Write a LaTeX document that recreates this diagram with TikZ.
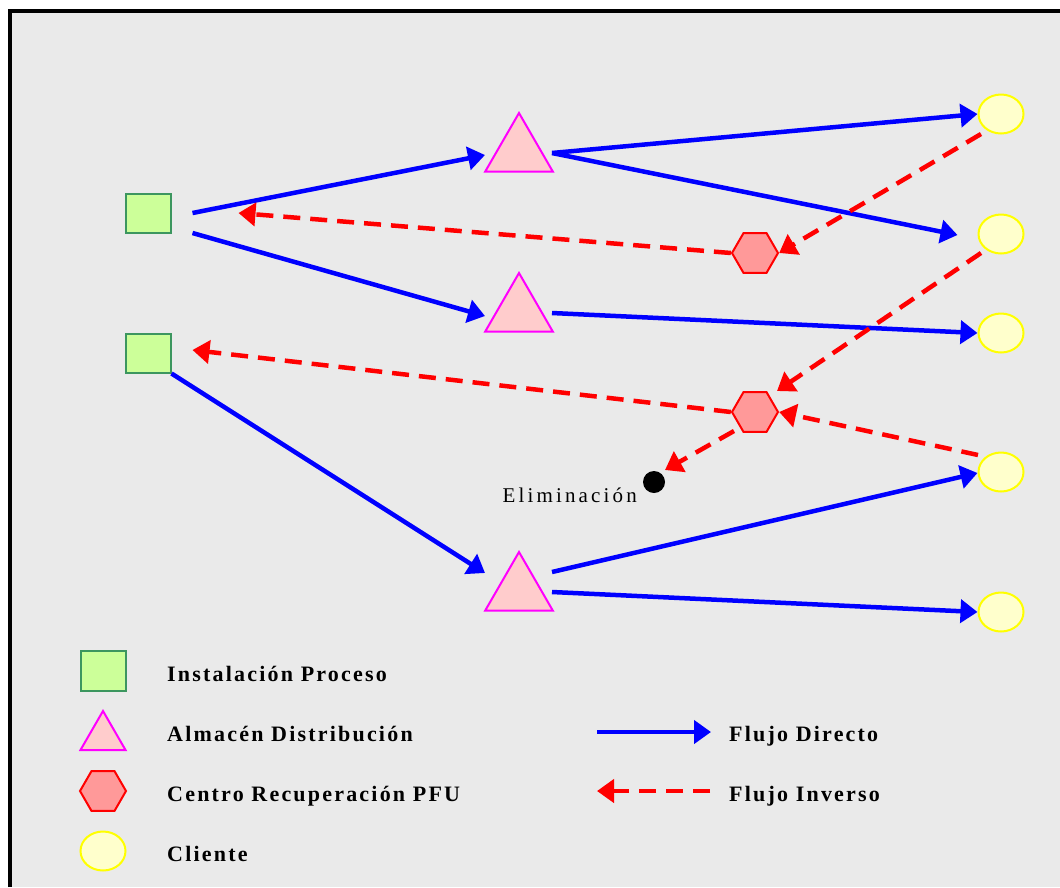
\documentclass[tikz,border=0pt]{standalone}
\usepackage{fontspec}
\setmainfont{Liberation Serif}
\newfontfamily\legfont{Liberation Serif}[LetterSpace=10]
\newfontfamily\elimfont{Liberation Serif}[LetterSpace=15]
\usetikzlibrary{arrows.meta,shapes.geometric,calc}
\definecolor{bgc}{RGB}{234,234,234}
\definecolor{sqfill}{RGB}{204,255,153}
\definecolor{sqborder}{RGB}{60,150,95}
\definecolor{trifill}{RGB}{255,204,204}
\definecolor{triborder}{RGB}{255,0,255}
\definecolor{hexfill}{RGB}{255,153,153}
\definecolor{clifill}{RGB}{255,255,204}
\definecolor{cliborder}{RGB}{255,255,0}
\begin{document}
\begin{tikzpicture}[x=1pt,y=-1pt,
  sq/.style={draw=sqborder,fill=sqfill,line width=2pt,minimum width=45pt,minimum height=39pt,inner sep=0pt},
  tri/.style={regular polygon,regular polygon sides=3,draw=triborder,fill=trifill,line width=2pt,minimum size=#1,inner sep=0pt},
  hex/.style={regular polygon,regular polygon sides=6,draw=red,fill=hexfill,line width=2pt,minimum size=46pt,inner sep=0pt},
  cli/.style={ellipse,draw=cliborder,fill=clifill,line width=2pt,minimum width=45pt,minimum height=39pt,inner sep=0pt},
  dir/.style={blue,line width=4.5pt,-{Triangle[length=17pt,width=23pt]}},
  inv/.style={red,line width=4.5pt,dash pattern=on 17pt off 10pt,-{Triangle[length=17pt,width=23pt]}},
  leg/.style={anchor=base west,inner sep=0pt,font=\legfont\bfseries\fontsize{22}{26}\selectfont}]
\useasboundingbox (0,0) rectangle (1060,887);
\fill[bgc] (10,11) rectangle (1060,887);
\draw[line width=4pt] (10,887) -- (10,11) -- (1060,11);

% nodes
\node[sq] (s1) at (148,213) {};
\node[sq] (s2) at (148,353) {};
\node[tri=78pt] (t1) at (519,152) {};
\node[tri=78pt] (t2) at (519,312) {};
\node[tri=78pt] (t3) at (519,591) {};
\node[hex] (h1) at (755,253) {};
\node[hex] (h2) at (755,412) {};
\node[circle,fill=black,minimum size=22pt,inner sep=0pt] (e) at (654,482) {};
\node[anchor=base east,inner sep=0pt,font=\elimfont\fontsize{21}{25}\selectfont] (el) at (637,502) {Eliminación};
\node[cli] (c1) at (1001,114) {};
\node[cli] (c2) at (1001,234) {};
\node[cli] (c3) at (1001,333) {};
\node[cli] (c4) at (1001,472) {};
\node[cli] (c5) at (1001,612) {};

% direct flows
\draw[dir] ($(s1.east)+(21,0)$) -- ($(t1.center)+(-34,3)$);
\draw[dir] ($(s1.east)+(21,20)$) -- ($(t2.center)+(-34,4)$);
\draw[dir] (s2.south east) -- ($(t3.center)+(-34,-18)$);
\draw[dir] ($(t1.center)+(33,1)$) -- (c1.west);
\draw[dir] ($(t1.center)+(33,1)$) -- ($(c2.west)+(-20,1)$);
\draw[dir] ($(t2.center)+(33,1)$) -- (c3.west);
\draw[dir] ($(t3.center)+(33,-19)$) -- ($(c4.west)+(0,1)$);
\draw[dir] ($(t3.center)+(33,1)$) -- (c5.west);

% inverse flows
\draw[inv] (h1.west) -- ($(s1.east)+(67,0)$);
\draw[inv] ($(c1.center)+(-20,20)$) -- (h1.east);
\draw[inv] ($(c2.center)+(-20,19)$) -- ($(h2.center)+(22,-21)$);
\draw[inv] ($(c4.center)+(-23,-17)$) -- (h2.east);
\draw[inv] (h2.west) -- ($(s2.east)+(21,-3)$);
\draw[inv] ($(h2.center)+(-21,19)$) -- ($(e.center)+(11,-12)$);

% legend
\node[sq,minimum width=45pt,minimum height=40pt] (ls) at (103,671) {};
\node[tri=52pt] (lt) at (103,737) {};
\node[hex,minimum size=46pt] (lh) at (103,791) {};
\node[cli,minimum width=45pt,minimum height=39pt] (lc) at (103,851) {};
\node[leg] (lst) at (167,681) {Instalación Proceso};
\node[leg] (ltt) at (167,741) {Almacén Distribución};
\node[leg] (lht) at (167,801) {Centro Recuperación PFU};
\node[leg] (lct) at (167,861) {Cliente};
\coordinate (ld1) at (597,732);
\coordinate (ld2) at (711,732);
\coordinate (li1) at (710,791);
\coordinate (li2) at (597,791);
\draw[dir] (ld1) -- (ld2);
\draw[inv] (li1) -- (li2);
\node[leg] (ldt) at (729,741) {Flujo Directo};
\node[leg] (lit) at (729,801) {Flujo Inverso};
\end{tikzpicture}
\end{document}
